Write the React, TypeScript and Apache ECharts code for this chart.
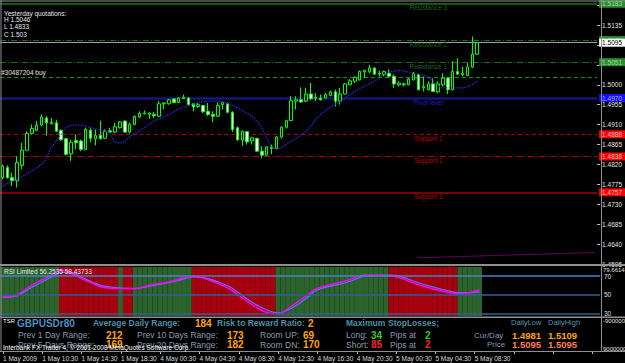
import React, { useEffect, useRef } from "react";
import * as echarts from "echarts";

// ---------- data ----------
const tickLabels = [
  "1 May 2009", "1 May 10:30", "1 May 14:30", "1 May 18:30", "4 May 00:30",
  "4 May 04:30", "4 May 08:30", "4 May 12:30", "4 May 16:30", "4 May 20:30",
  "5 May 00:30", "5 May 04:30", "5 May 08:30",
];

const opens = [
  1.4790, 1.4813, 1.4790, 1.4783, 1.4818, 1.4852, 1.4890, 1.4897, 1.4909, 1.4925,
  1.4912, 1.4914, 1.4897, 1.4878, 1.4844, 1.4874, 1.4873, 1.4854, 1.4897, 1.4878,
  1.4886, 1.4879, 1.4896, 1.4893, 1.4903, 1.4918, 1.4893, 1.4910, 1.4927, 1.4934,
  1.4933, 1.4933, 1.4929, 1.4957, 1.4957, 1.4968, 1.4960, 1.4969, 1.4970, 1.4957,
  1.4951, 1.4953, 1.4940, 1.4933, 1.4929, 1.4955, 1.4957, 1.4938, 1.4903, 1.4875,
  1.4894, 1.4873, 1.4879, 1.4850, 1.4841, 1.4859, 1.4856, 1.4882, 1.4904, 1.4919,
  1.4963, 1.4966, 1.4963, 1.4979, 1.4969, 1.4970, 1.4970, 1.4976, 1.4984, 1.4963,
  1.4979, 1.5000, 1.5008, 1.5011, 1.5029, 1.5029, 1.5038, 1.5024, 1.5023, 1.5026,
  1.5019, 1.5000, 1.5000, 1.5000, 1.5011, 1.5023, 1.4993, 1.4989, 1.5002, 1.4984,
  1.5000, 1.5015, 1.4989, 1.5030, 1.5023, 1.5021, 1.5040, 1.5069,
];
const closes = [
  1.4816, 1.4790, 1.4783, 1.4824, 1.4852, 1.4890, 1.4901, 1.4909, 1.4927, 1.4914,
  1.4915, 1.4895, 1.4876, 1.4843, 1.4870, 1.4869, 1.4854, 1.4899, 1.4879, 1.4885,
  1.4878, 1.4895, 1.4893, 1.4905, 1.4916, 1.4893, 1.4910, 1.4929, 1.4935, 1.4936,
  1.4936, 1.4930, 1.4957, 1.4959, 1.4966, 1.4960, 1.4970, 1.4972, 1.4955, 1.4950,
  1.4955, 1.4939, 1.4933, 1.4929, 1.4953, 1.4960, 1.4938, 1.4899, 1.4876, 1.4895,
  1.4871, 1.4880, 1.4850, 1.4841, 1.4860, 1.4856, 1.4882, 1.4904, 1.4919, 1.4964,
  1.4966, 1.4961, 1.4979, 1.4969, 1.4972, 1.4966, 1.4978, 1.4984, 1.4963, 1.4979,
  1.5002, 1.5009, 1.5017, 1.5030, 1.5032, 1.5038, 1.5024, 1.5026, 1.5030, 1.5019,
  1.5002, 1.5004, 1.5002, 1.5013, 1.5026, 1.4989, 1.4996, 1.5002, 1.4985, 1.5002,
  1.5015, 1.4989, 1.5030, 1.5024, 1.5026, 1.5040, 1.5069, 1.5095,
];
const highs = [
  1.4820, 1.4818, 1.4801, 1.4839, 1.4869, 1.4895, 1.4910, 1.4918, 1.4933, 1.4929,
  1.4925, 1.4921, 1.4899, 1.4880, 1.4876, 1.4888, 1.4876, 1.4903, 1.4903, 1.4899,
  1.4919, 1.4899, 1.4903, 1.4914, 1.4918, 1.4919, 1.4914, 1.4930, 1.4940, 1.4942,
  1.4938, 1.4939, 1.4963, 1.4960, 1.4968, 1.4969, 1.4972, 1.4978, 1.4972, 1.4959,
  1.4959, 1.4954, 1.4959, 1.4940, 1.4960, 1.4963, 1.4960, 1.4940, 1.4906, 1.4897,
  1.4895, 1.4882, 1.4880, 1.4861, 1.4861, 1.4865, 1.4884, 1.4906, 1.4921, 1.4974,
  1.4974, 1.4994, 1.4993, 1.5004, 1.4981, 1.4978, 1.4981, 1.4987, 1.4989, 1.4993,
  1.5004, 1.5013, 1.5019, 1.5032, 1.5034, 1.5045, 1.5039, 1.5032, 1.5032, 1.5035,
  1.5023, 1.5008, 1.5005, 1.5015, 1.5029, 1.5024, 1.5019, 1.5008, 1.5015, 1.5008,
  1.5026, 1.5017, 1.5053, 1.5060, 1.5041, 1.5049, 1.5109, 1.5097,
];
const lows = [
  1.4786, 1.4788, 1.4771, 1.4768, 1.4809, 1.4850, 1.4888, 1.4895, 1.4906, 1.4885,
  1.4910, 1.4893, 1.4873, 1.4840, 1.4828, 1.4854, 1.4850, 1.4852, 1.4870, 1.4863,
  1.4876, 1.4878, 1.4892, 1.4891, 1.4901, 1.4891, 1.4890, 1.4909, 1.4925, 1.4933,
  1.4923, 1.4925, 1.4927, 1.4945, 1.4955, 1.4959, 1.4959, 1.4968, 1.4954, 1.4940,
  1.4948, 1.4936, 1.4929, 1.4915, 1.4927, 1.4944, 1.4935, 1.4893, 1.4873, 1.4862,
  1.4865, 1.4865, 1.4849, 1.4834, 1.4839, 1.4843, 1.4854, 1.4879, 1.4901, 1.4918,
  1.4944, 1.4960, 1.4961, 1.4965, 1.4963, 1.4964, 1.4969, 1.4974, 1.4951, 1.4955,
  1.4978, 1.4999, 1.5004, 1.5010, 1.5015, 1.5026, 1.5023, 1.5017, 1.5019, 1.5017,
  1.4993, 1.4996, 1.4996, 1.4999, 1.5010, 1.4987, 1.4985, 1.4987, 1.4984, 1.4981,
  1.4996, 1.4979, 1.4987, 1.5023, 1.5019, 1.5019, 1.5038, 1.5068,
];

// blue dotted trend curve: candle number -> price (read points)
const maIdx = [1, 9, 11, 13, 14, 15, 17, 19, 22, 23, 24, 25, 28, 30, 32, 35, 37, 41, 43, 45, 47, 49, 53, 57, 60, 63, 66, 70, 73, 77, 79, 82, 85, 88, 91, 95, 98];
const maVal = [1.4771, 1.4820, 1.4858, 1.4888, 1.4903, 1.4908, 1.4909, 1.4903, 1.4895, 1.4891, 1.4870, 1.4869, 1.4890, 1.4903, 1.4918, 1.4933, 1.4945, 1.4959, 1.4963, 1.4963, 1.4957, 1.4948, 1.4918, 1.4854, 1.4873, 1.4895, 1.4933, 1.4963, 1.4985, 1.5008, 1.5024, 1.5032, 1.5026, 1.5017, 1.4993, 1.4993, 1.5008];

// magenta line at the bottom of the price window
const magIdx = [86, 122];
const magVal = [1.4609, 1.4621];

// pivot levels
const levelNames = ["Resistance 3", "Resistance 2", "Resistance 1", "Pivot level", "Support 1", "Support 2", "Support 3"];
const levelValues = [1.5183, 1.5101, 1.5051, 1.4970, 1.4888, 1.4838, 1.4757];
const bidPrice = 1.5095;
const buyPrice = 1.5018;

// RSI window
const rsiIdx = [1, 4, 7, 11, 13, 15, 17, 19, 21, 24, 28, 31, 35, 38, 40, 43, 47, 49, 52, 55, 57, 60, 63, 65, 71, 75, 80, 86, 91, 94, 98];
const rsiMain = [47.6, 50.2, 60.3, 71, 76.5, 73, 67.5, 63, 58.4, 56.7, 56.7, 60.3, 63.9, 68.3, 69.4, 65.7, 56.7, 49.5, 38.6, 30.7, 29.7, 38.6, 49.5, 56.7, 65, 71, 70, 60, 53, 51, 55];
const rsiSignal = [47, 49, 58, 69, 74, 74, 69, 64, 60, 57.5, 56.5, 59, 63, 67, 69, 67, 59, 52, 41, 33, 30.5, 36, 47, 55, 63, 70, 71, 62, 55, 52, 53];
const rsiLevels = [70, 50, 30];
// zone per candle: G = up (green), R = down (red)
const rsiZones = [
  "GGGGGGGGGGGG", "RRRRRRRRRRRR", "G", "RR", "GGGGGGGGGGGG",
  "RRRRRRRRRRRRRRRRR", "GGGGGGGGGGGGGGGGGGGGGGG", "RRRRRRRRRRRRRR", "GGGGG",
].join("");
const RSI_MIN = 27.1;
const RSI_MAX = 79.66;

// ---------- helpers ----------
const N_SLOTS = 122;
const BASE = 1.4595;
const P_MAX = 592;
const toPips = (p: number) => Math.round((p - BASE) * 100000) / 10;
const fmtPrice = (v: number) => (BASE + v / 10000).toFixed(4);
const FONT = '"Liberation Sans", Arial, sans-serif';

function buildCategories(): string[] {
  const out: string[] = [];
  for (let i = 0; i < N_SLOTS; i++) {
    let day: number;
    let mins: number;
    if (i <= 30) {
      day = 1;
      mins = 6 * 60 + 30 + 30 * i;
    } else {
      mins = (i - 31) * 30;
      day = 4 + Math.floor(mins / 1440);
      mins = mins % 1440;
    }
    const hh = String(Math.floor(mins / 60)).padStart(2, "0");
    const mm = String(mins % 60).padStart(2, "0");
    out.push(`2009-05-0${day} ${hh}:${mm}`);
  }
  return out;
}

function sparse(idx: number[], vals: number[], f: (v: number) => number = (v) => v) {
  const arr: (number | null)[] = new Array(N_SLOTS).fill(null);
  idx.forEach((k, i) => {
    arr[k - 1] = f(vals[i]);
  });
  return arr;
}

function txt(text: string, x: number, y: number, fill: string, size: number, weight = "normal") {
  return {
    type: "text",
    x,
    y,
    z: 100,
    silent: true,
    style: { text, fill, font: `${weight} ${size}px ${FONT}`, verticalAlign: "middle", align: "left" },
  };
}

function buildOption() {
  const categories = buildCategories();
  const candleData = opens.map((o, i) => [toPips(o), toPips(closes[i]), toPips(lows[i]), toPips(highs[i])]);

  const GREEN_LINE = "#1d6e1d";
  const RED_LINE = "#b00000";
  const levelStyles = [
    { line: { color: "#0f5a0f", width: 2, type: "solid" }, bg: "#2e8b2e", fg: "#9fe09f", name: "#2b7a2b" },
    { line: { color: GREEN_LINE, width: 1, type: [6, 2, 1, 2] }, bg: "#2e8b2e", fg: "#9fe09f", name: "#2b7a2b" },
    { line: { color: GREEN_LINE, width: 1, type: [6, 2, 1, 2] }, bg: "#2e8b2e", fg: "#9fe09f", name: "#2b7a2b" },
    { line: { color: "#16167a", width: 2.5, type: "solid" }, bg: "#1010ff", fg: "#b0b0ff", name: "#2525ff" },
    { line: { color: RED_LINE, width: 1, type: [4, 3] }, bg: "#ff0000", fg: "#ffc0c0", name: "#e00000" },
    { line: { color: RED_LINE, width: 1, type: [6, 2, 1, 2] }, bg: "#ff0000", fg: "#ffc0c0", name: "#e00000" },
    { line: { color: "#a00000", width: 1.5, type: "solid" }, bg: "#ff0000", fg: "#ffc0c0", name: "#e00000" },
  ];

  const hideNear = [...levelValues, bidPrice].map(toPips);

  const xBase = (gridIndex: number) => ({
    type: "category",
    gridIndex,
    data: categories,
    boundaryGap: true,
    axisLine: { show: false },
    axisTick: { show: false },
    axisLabel: { show: false },
    splitLine: { show: false },
  });

  const graphics: any[] = [
    // frame and window separators
    { type: "line", silent: true, z: 90, shape: { x1: 0, y1: 1, x2: 625, y2: 1 }, style: { stroke: "#909090", lineWidth: 1 } },
    { type: "line", silent: true, z: 90, shape: { x1: 1, y1: 0, x2: 1, y2: 351 }, style: { stroke: "#909090", lineWidth: 1 } },
    { type: "line", silent: true, z: 90, shape: { x1: 601.5, y1: 0, x2: 601.5, y2: 351 }, style: { stroke: "#909090", lineWidth: 1 } },
    { type: "rect", silent: true, z: 90, shape: { x: 0, y: 264, width: 625, height: 2 }, style: { fill: "#909090" } },
    { type: "rect", silent: true, z: 90, shape: { x: 0, y: 316.5, width: 625, height: 1.5 }, style: { fill: "#909090" } },
    { type: "line", silent: true, z: 90, shape: { x1: 0, y1: 351.5, x2: 625, y2: 351.5 }, style: { stroke: "#909090", lineWidth: 1 } },

    // top-left texts
    txt("Yesterday quotations:", 4, 13, "#e8e8e8", 6.5),
    txt("H 1.5046", 4, 19.5, "#e8e8e8", 6.5),
    txt("L 1.4833", 4, 26.5, "#e8e8e8", 6.5),
    txt("C 1.503", 4, 34, "#e8e8e8", 6.5),

    // RSI window texts
    txt("RSI Limited 56.2535 58.43733", 4, 271.5, "#e8e8e8", 6.5),
    txt("79.6614", 603, 270, "#e0e0e0", 6),

    // info window
    txt("TSR", 3, 320.5, "#ffffff", 6),
    txt("GBPUSDr80", 17, 323.5, "#4f8fbf", 10, "bold"),
    txt("Average Daily Range:", 93, 323, "#4a90a8", 8.5, "bold"),
    txt("184", 195, 323, "#ffa500", 10, "bold"),
    txt("Risk to Reward Ratio:", 217, 323, "#4a90a8", 8.5, "bold"),
    txt("2", 308, 323, "#ffa500", 10, "bold"),
    txt("Maximum", 346, 323, "#4a90a8", 8.5, "bold"),
    txt("StopLosses;", 388, 323, "#4a90a8", 8.5, "bold"),
    txt("DailyLow", 511, 322, "#4a9ab5", 7.5),
    txt("DailyHigh", 548, 322, "#4a9ab5", 7.5),

    txt("Prev 1 Day Range:", 18, 335, "#8a9ab0", 8.5),
    txt("212", 106, 335, "#ffa500", 10, "bold"),
    txt("Prev 10 Days Range:", 137, 335, "#8a9ab0", 8.5),
    txt("173", 227, 335, "#ffa500", 10, "bold"),
    txt("Room UP:", 260, 335, "#8a9ab0", 8.5),
    txt("69", 303, 335, "#ffa500", 10, "bold"),
    txt("Long:", 346, 335, "#8a9ab0", 8.5),
    txt("34", 371, 335, "#33cc33", 10, "bold"),
    txt("Pips at", 390, 335, "#8a9ab0", 8.5),
    txt("2", 425, 335, "#33cc33", 10, "bold"),
    txt("Cur/Day", 474, 335, "#8a9ab0", 8),
    txt("1.4981", 512, 335, "#ffa500", 9.5, "bold"),
    txt("1.5109", 548, 335, "#ffa500", 9.5, "bold"),

    txt("Prev 5 Days Range:", 18, 344.5, "#8a9ab0", 8.5),
    txt("169", 106, 344.5, "#ffa500", 10, "bold"),
    txt("Prev 20 Days Range:", 137, 344.5, "#8a9ab0", 8.5),
    txt("182", 227, 344.5, "#ffa500", 10, "bold"),
    txt("Room DN:", 260, 344.5, "#8a9ab0", 8.5),
    txt("170", 303, 344.5, "#ffa500", 10, "bold"),
    txt("Short:", 346, 344.5, "#8a9ab0", 8.5),
    txt("85", 371, 344.5, "#ff2020", 10, "bold"),
    txt("Pips at", 390, 344.5, "#8a9ab0", 8.5),
    txt("2", 425, 344.5, "#ff2020", 10, "bold"),
    txt("Price", 487, 344.5, "#8a9ab0", 8),
    txt("1.5095", 512, 344.5, "#ff7f50", 9.5, "bold"),
    txt("1.5095", 548, 344.5, "#ff7f50", 9.5, "bold"),

    txt("Interbank FX Trader 4, \u00A9 2001-2008 MetaQuotes Software Corp.", 3, 347.5, "#ffffff", 6.5),
    txt("-900000", 603, 321, "#e0e0e0", 6),
    txt("9000000", 603, 349, "#e0e0e0", 6),
  ];

  return {
    animation: false,
    backgroundColor: "#000000",
    grid: [
      { left: 0, width: 600, top: 2, height: 262 },
      { left: 0, width: 600, top: 267, height: 49 },
      { left: 0, width: 600, top: 318, height: 33 },
    ],
    xAxis: [
      xBase(0),
      xBase(1),
      {
        ...xBase(2),
        axisTick: { show: true, interval: 7, alignWithLabel: true, length: 3, lineStyle: { color: "#c0c0c0" } },
        axisLabel: {
          show: true,
          interval: 7,
          align: "left",
          color: "#d8d8d8",
          fontSize: 6.5,
          fontFamily: FONT,
          margin: 4,
          formatter: (_v: string, index: number) => (index % 8 === 0 && tickLabels[index / 8]) || "",
        },
      },
    ],
    yAxis: [
      {
        type: "value",
        gridIndex: 0,
        position: "right",
        min: 0,
        max: P_MAX,
        interval: 45,
        splitLine: { show: false },
        axisLine: { show: false },
        axisTick: { show: true, length: 3, lineStyle: { color: "#c0c0c0" } },
        axisLabel: {
          color: "#e0e0e0",
          fontSize: 6.5,
          fontFamily: FONT,
          margin: 5,
          showMaxLabel: false,
          formatter: (v: number) => (hideNear.some((h) => Math.abs(h - v) < 9) ? "" : fmtPrice(v)),
        },
      },
      { type: "value", gridIndex: 1, min: RSI_MIN, max: RSI_MAX, startValue: RSI_MIN, show: false },
      { type: "value", gridIndex: 2, min: 0, max: 1, show: false },
    ],
    graphic: graphics,
    series: [
      {
        type: "bar",
        xAxisIndex: 1,
        yAxisIndex: 1,
        barCategoryGap: "0%",
        barGap: "0%",
        clip: true,
        silent: true,
        data: rsiZones.split("").map((z) => ({
          value: RSI_MAX,
          itemStyle: { color: z === "G" ? "#2c632c" : "#a8000e" },
        })),
        markLine: {
          symbol: ["none", "none"],
          silent: true,
          data: rsiLevels.map((v) => ({
            yAxis: v,
            lineStyle: { color: v === 70 ? "#4a80c8" : "#2f5f95", width: 1.5, type: "solid" },
            label: { show: true, position: "end", distance: 4, formatter: String(v), color: "#e0e0e0", fontSize: 6.5, fontFamily: FONT },
          })),
        },
      },
      {
        type: "line",
        xAxisIndex: 1,
        yAxisIndex: 1,
        data: sparse(rsiIdx, rsiSignal),
        connectNulls: true,
        smooth: 0.4,
        showSymbol: false,
        lineStyle: { color: "#5577ff", width: 1.2 },
      },
      {
        type: "line",
        xAxisIndex: 1,
        yAxisIndex: 1,
        data: sparse(rsiIdx, rsiMain),
        connectNulls: true,
        smooth: 0.4,
        showSymbol: false,
        lineStyle: { color: "#ff00ff", width: 1.5 },
      },
      {
        type: "line",
        xAxisIndex: 0,
        yAxisIndex: 0,
        data: sparse(magIdx, magVal, toPips),
        connectNulls: true,
        showSymbol: false,
        lineStyle: { color: "#c000c0", width: 1, type: "dotted" },
      },
      {
        type: "candlestick",
        xAxisIndex: 0,
        yAxisIndex: 0,
        barWidth: 3,
        data: candleData,
        itemStyle: {
          color: "#000000",
          color0: "#ffffff",
          borderColor: "#00ff00",
          borderColor0: "#00ff00",
          borderWidth: 1,
        },
        markLine: {
          symbol: ["none", "none"],
          silent: true,
          z: 1,
          data: [
            ...levelValues.map((v, i) => ({
              yAxis: toPips(v),
              lineStyle: levelStyles[i].line,
              label: {
                show: true,
                position: "end",
                distance: 2,
                formatter: v.toFixed(4),
                color: levelStyles[i].fg,
                backgroundColor: levelStyles[i].bg,
                padding: [1, 3, 0, 3],
                fontSize: 6.5,
                fontFamily: FONT,
              },
            })),
            {
              yAxis: toPips(bidPrice),
              lineStyle: { color: "#a0a0a0", width: 1, type: "solid" },
              label: {
                show: true,
                position: "end",
                distance: 2,
                formatter: bidPrice.toFixed(4),
                color: "#000000",
                backgroundColor: "#ffffff",
                padding: [1, 3, 0, 3],
                fontSize: 6.5,
                fontFamily: FONT,
              },
            },
            {
              yAxis: toPips(buyPrice),
              lineStyle: { color: "#00a000", width: 1, type: [4, 3] },
              label: {
                show: true,
                position: "insideStartTop",
                distance: 1,
                formatter: "#30487204 buy",
                color: "#e0e0e0",
                fontSize: 6.5,
                fontFamily: FONT,
              },
            },
          ],
        },
      },
      {
        type: "line",
        xAxisIndex: 0,
        yAxisIndex: 0,
        data: sparse(maIdx, maVal, toPips),
        connectNulls: true,
        smooth: 0.35,
        showSymbol: false,
        z: 4,
        lineStyle: { color: "#2a2aff", width: 1.3, type: "dotted" },
      },
      {
        type: "scatter",
        xAxisIndex: 0,
        yAxisIndex: 0,
        symbolSize: 1,
        silent: true,
        itemStyle: { color: "rgba(0,0,0,0)" },
        data: levelValues.map((v, i) => ({
          value: [87, toPips(v), levelNames[i]],
          label: { color: levelStyles[i].name },
        })),
        label: {
          show: true,
          position: "inside",
          offset: [0, 4],
          fontSize: 6.5,
          fontFamily: FONT,
          formatter: (p: any) => p.data.value[2],
        },
      },
    ],
  };
}

export default function App() {
  const ref = useRef<HTMLDivElement>(null);
  useEffect(() => {
    document.body.style.margin = "0";
    document.body.style.background = "#000";
    const chart = echarts.init(ref.current as HTMLDivElement, null, { renderer: "svg" });
    chart.setOption(buildOption() as any);
    return () => chart.dispose();
  }, []);
  return <div ref={ref} style={{ width: 625, height: 363, background: "#000" }} />;
}
